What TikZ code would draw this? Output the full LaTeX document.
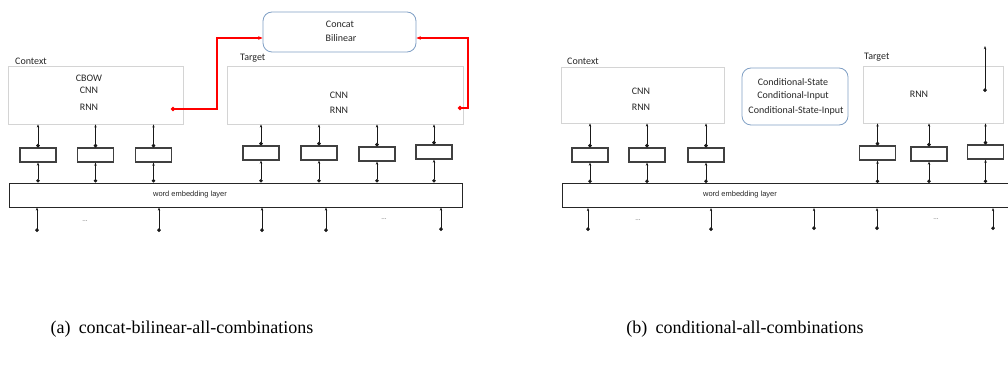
\documentclass[tikz,border=0pt]{standalone}
\usepackage{fontspec}
\setmainfont{Liberation Serif}
\newfontfamily\calib{Carlito}
\newfontfamily\arialf{Liberation Sans}
\usetikzlibrary{arrows.meta}
\definecolor{boxblue}{HTML}{7F9FC4}
\definecolor{lgray}{HTML}{D4D4D4}
\begin{document}
\begin{tikzpicture}[x=1pt,y=1pt,
  lbl/.style={font=\calib\fontsize{10}{12}\selectfont, text=black!85, inner sep=0},
  emblbl/.style={font=\arialf\fontsize{7.5}{9}\selectfont, text=black!85, inner sep=0},
  dotslbl/.style={font=\calib\fontsize{7}{8}\selectfont, text=black!55, inner sep=0},
  grbox/.style={draw=lgray, line width=0.8pt, inner sep=0},
  rbox/.style={draw=boxblue, line width=0.8pt, rounded corners=9pt, inner sep=0},
  smallbox/.style={draw=black!75, line width=1.1pt, minimum width=36pt, minimum height=14pt, inner sep=0},
  embbox/.style={draw=black!85, line width=0.9pt, inner sep=0, minimum height=24pt},
  conn/.style={{Circle[length=3.6pt]}-{Stealth[length=3.2pt,width=2.4pt]}, line width=0.8pt, black!90},
  redc/.style={{Circle[length=4pt]}-{Stealth[length=4.5pt,width=3.6pt]}, line width=1.3pt, red},
  caption/.style={font=\fontsize{18}{21}\selectfont, anchor=base, inner sep=0}
]
\useasboundingbox (0,0) rectangle (1008,-371);

% ===================== panel (a) =====================
\node[grbox, minimum width=175pt, minimum height=58pt] (ctxA) at (95.5,-95) {};
\node[lbl, anchor=west] (ctxAl) at (15,-61) {Context};
\node[lbl] (ctxA1) at (89,-78) {CBOW};
\node[lbl] (ctxA2) at (89,-90) {CNN};
\node[lbl] (ctxA3) at (89,-107) {RNN};

\node[grbox, minimum width=236pt, minimum height=58pt] (tgtA) at (345,-95) {};
\node[lbl, anchor=west] (tgtAl) at (240,-58) {Target};
\node[lbl] (tgtA1) at (339,-95) {CNN};
\node[lbl] (tgtA2) at (339,-110) {RNN};

\node[rbox, minimum width=153pt, minimum height=40pt] (concat) at (339.5,-32) {};
\node[lbl] (concat1) at (340,-24) {Concat};
\node[lbl] (concat2) at (341,-38) {Bilinear};

\coordinate (rA) at (171,-109);
\coordinate (rAtop) at (217,-38);
\coordinate (rB) at (458,-108);
\coordinate (rBtop) at (468,-38);
\draw[redc] (rA) -| (rAtop) -- (concat.west |- rAtop);
\draw[redc] (rB) -| (rBtop) -- (concat.east |- rBtop);

\node[embbox, minimum width=453pt] (embA) at (235.5,-195) {};
\node[emblbl] (embAl) at (190,-195) {word embedding layer};

\node[smallbox] (a1) at (38,-155) {};
\node[smallbox] (a2) at (95.5,-155) {};
\node[smallbox] (a3) at (153.5,-155) {};
\node[smallbox] (a4) at (261,-153) {};
\node[smallbox] (a5) at (319,-153) {};
\node[smallbox] (a6) at (377,-154) {};
\node[smallbox] (a7) at (434,-152) {};

\foreach \b in {a1,a2,a3}{
  \draw[conn] (\b.south |- embA.north) -- (\b.south);
  \draw[conn] (\b.north) -- (\b.north |- ctxA.south);
}
\foreach \b in {a4,a5,a6,a7}{
  \draw[conn] (\b.south |- embA.north) -- (\b.south);
  \draw[conn] (\b.north) -- (\b.north |- tgtA.south);
}

\coordinate (iA1) at (37,-232);
\coordinate (iA2) at (159,-232);
\coordinate (iA3) at (262,-232);
\coordinate (iA4) at (326,-232);
\coordinate (iA5) at (441,-231);
\foreach \c in {iA1,iA2,iA3,iA4,iA5}{
  \draw[conn] (\c) -- (\c |- embA.south);
}
\node[dotslbl] (dA1) at (85,-221) {...};
\node[dotslbl] (dA2) at (384,-219) {...};

% ===================== panel (b) =====================
\node[grbox, minimum width=163pt, minimum height=56pt] (ctxB) at (642.5,-95) {};
\node[lbl, anchor=west] (ctxBl) at (567,-61) {Context};
\node[lbl] (ctxB1) at (641,-91) {CNN};
\node[lbl] (ctxB2) at (641,-107) {RNN};

\node[rbox, minimum width=106pt, minimum height=57pt] (cond) at (795,-96.5) {};
\node[lbl] (cond1) at (793,-82) {Conditional-State};
\node[lbl] (cond2) at (793,-96) {Conditional-Input};
\node[lbl] (cond3) at (796,-111) {Conditional-State-Input};

\node[grbox, minimum width=140pt, minimum height=57pt] (tgtB) at (933,-94.5) {};
\node[lbl, anchor=west] (tgtBl) at (864,-57) {Target};
\node[lbl] (tgtB1) at (919,-94) {RNN};
\coordinate (oB) at (985,-92);
\coordinate (oBtop) at (985,-46);
\draw[conn] (oB) -- (oBtop);

\node[embbox, minimum width=452pt] (embB) at (788,-195.5) {};
\node[emblbl] (embBl) at (740,-195) {word embedding layer};

\node[smallbox] (b1) at (590,-155) {};
\node[smallbox] (b2) at (647,-155) {};
\node[smallbox] (b3) at (706,-155) {};
\node[smallbox] (b4) at (877.5,-153) {};
\node[smallbox] (b5) at (929,-154) {};
\node[smallbox] (b6) at (985.5,-152) {};

\foreach \b in {b1,b2,b3}{
  \draw[conn] (\b.south |- embB.north) -- (\b.south);
  \draw[conn] (\b.north) -- (\b.north |- ctxB.south);
}
\foreach \b in {b4,b5,b6}{
  \draw[conn] (\b.south |- embB.north) -- (\b.south);
  \draw[conn] (\b.north) -- (\b.north |- tgtB.south);
}

\coordinate (iB1) at (588,-231);
\coordinate (iB2) at (711,-231);
\coordinate (iB3) at (814,-230);
\coordinate (iB4) at (877,-230);
\coordinate (iB5) at (993,-230);
\foreach \c in {iB1,iB2,iB3,iB4,iB5}{
  \draw[conn] (\c) -- (\c |- embB.south);
}
\node[dotslbl] (dB1) at (638,-220) {...};
\node[dotslbl] (dB2) at (936,-219) {...};

% ===================== captions =====================
\node[caption] (capA) at (182,-333) {(a)\hspace{0.45em}concat-bilinear-all-combinations};
\node[caption] (capB) at (745,-333) {(b)\hspace{0.45em}conditional-all-combinations};
\end{tikzpicture}
\end{document}
